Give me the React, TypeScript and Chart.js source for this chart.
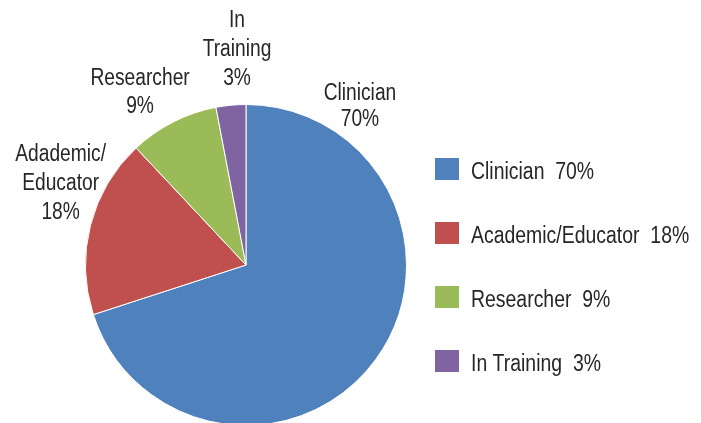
import React, { useEffect, useRef } from "react";
import { Chart, registerables } from "chart.js";
Chart.register(...registerables);

const categories = ["Clinician", "Academic/Educator", "Researcher", "In Training"];
const values = [70, 18, 9, 3];
const sliceLabels = [
  ["Clinician", "70%"],
  ["Adademic/", "Educator", "18%"],
  ["Researcher", "9%"],
  ["In", "Training", "3%"],
];
const colors = ["#4F81BD", "#C0504D", "#9BBB59", "#8064A2"];
// label block centres relative to the pie centre, in radius units
const labelOffsets = [
  [0.71, -1.0],
  [-1.155, -0.52],
  [-0.66, -1.085],
  [-0.056, -1.355],
];
const labelLineHeights = [26.7, 28.7, 27.7, 29.2];

const FONT = "23px 'Liberation Sans', Arial, sans-serif";
const TEXT_COLOR = "#262626";
const SX = 0.835;
const LEGEND_SX = 0.845;

function drawText(
  ctx: CanvasRenderingContext2D,
  text: string,
  x: number,
  y: number,
  align: "center" | "left",
  sx: number
) {
  ctx.save();
  ctx.translate(x, y);
  ctx.scale(sx, 1);
  ctx.textAlign = align;
  ctx.fillText(text, 0, 0);
  ctx.restore();
}

const labelPlugin = {
  id: "customLabels",
  afterDraw(chart: any) {
    const ctx: CanvasRenderingContext2D = chart.ctx;
    const meta = chart.getDatasetMeta(0);
    const arc = meta.data[0];
    if (!arc) return;
    const cx = arc.x;
    const cy = arc.y;
    const r = arc.outerRadius;
    ctx.save();
    ctx.font = FONT;
    ctx.fillStyle = TEXT_COLOR;
    ctx.textBaseline = "alphabetic";
    sliceLabels.forEach((lines, i) => {
      const lh = labelLineHeights[i];
      const bx = cx + labelOffsets[i][0] * r;
      const by = cy + labelOffsets[i][1] * r;
      const n = lines.length;
      lines.forEach((ln, j) => {
        const mid = by + (j - (n - 1) / 2) * lh;
        drawText(ctx, ln, bx, mid + 8.4, "center", SX);
      });
    });
    // legend
    const lx = chart.chartArea.right + 28;
    const ly0 = cy - 96;
    const step = 64;
    categories.forEach((c, i) => {
      const y = ly0 + i * step;
      ctx.fillStyle = colors[i];
      ctx.fillRect(lx, y - 11, 24, 22);
      ctx.fillStyle = TEXT_COLOR;
      drawText(ctx, `${c}  ${values[i]}%`, lx + 36, y + 10, "left", LEGEND_SX);
    });
    ctx.restore();
  },
};

export default function App() {
  const ref = useRef<HTMLCanvasElement>(null);
  useEffect(() => {
    document.body.style.margin = "0";
    const chart = new Chart(ref.current!, {
      type: "pie",
      data: {
        labels: categories,
        datasets: [
          {
            data: values,
            backgroundColor: colors,
            borderColor: "#ffffff",
            borderWidth: 1,
          },
        ],
      },
      options: {
        responsive: false,
        animation: false,
        layout: { padding: { left: 85, top: 104, right: 294, bottom: 14 } },
        plugins: { legend: { display: false }, tooltip: { enabled: false } },
      },
      plugins: [labelPlugin],
    });
    return () => chart.destroy();
  }, []);
  return (
    <div style={{ position: "fixed", left: 0, top: 0, width: 701, height: 423, overflow: "hidden", background: "#fff" }}>
      <canvas ref={ref} width={701} height={440} style={{ display: "block", width: 701, height: 440 }} />
    </div>
  );
}
